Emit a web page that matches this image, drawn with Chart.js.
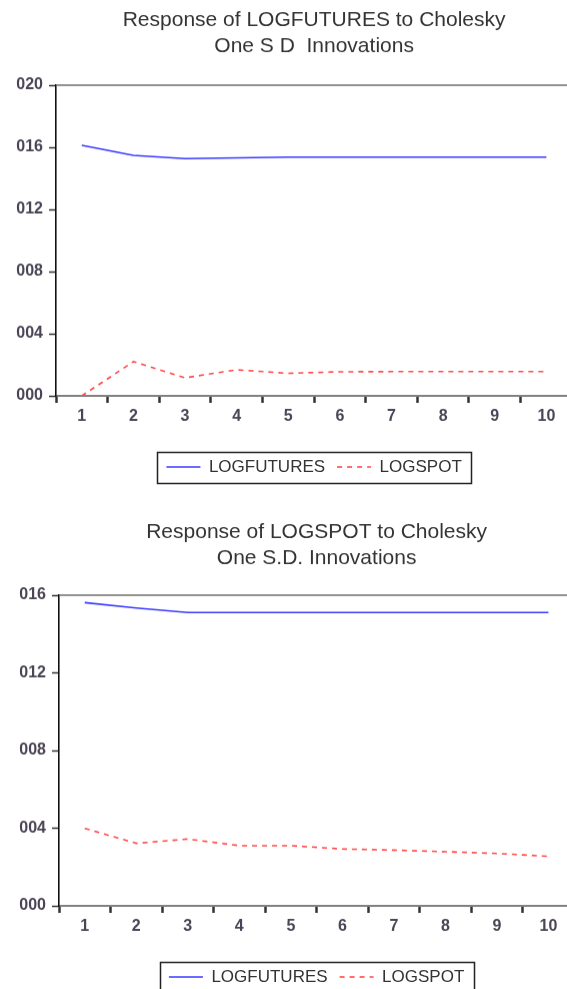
<!DOCTYPE html>
<html><head><meta charset="utf-8">
<script src="https://cdn.jsdelivr.net/npm/chart.js@4.4.1/dist/chart.umd.min.js"></script>
<style>
html,body{margin:0;padding:0;background:#fff;width:567px;height:989px;overflow:hidden;position:relative;}
.wrap{position:absolute;left:0;}
</style></head><body>
<div class="wrap" id="w1" style="top:0;width:573px;height:484.5px"><canvas id="c1"></canvas></div>
<div class="wrap" id="w2" style="top:511px;width:575px;height:483.5px"><canvas id="c2"></canvas></div>
<script>
const periods = ['1','2','3','4','5','6','7','8','9','10'];
const seriesNames = ['LOGFUTURES','LOGSPOT'];

const topTitle = ['Response of LOGFUTURES to Cholesky','One S D  Innovations'];
const topFutures = [0.01613, 0.01548, 0.01527, 0.01532, 0.01537, 0.01537, 0.01537, 0.01537, 0.01537, 0.01537];
const topSpot    = [0.00000, 0.00220, 0.00116, 0.00168, 0.00145, 0.00155, 0.00156, 0.00156, 0.00156, 0.00156];
const topYTicks  = ['000','004','008','012','016','020'];

const botTitle = ['Response of LOGSPOT to Cholesky','One S.D. Innovations'];
const botFutures = [0.01562, 0.01534, 0.01511, 0.01511, 0.01511, 0.01511, 0.01511, 0.01511, 0.01511, 0.01511];
const botSpot    = [0.00399, 0.00322, 0.00344, 0.00310, 0.00310, 0.00293, 0.00287, 0.00279, 0.00270, 0.00255];
const botYTicks  = ['000','004','008','012','016'];

const FONT = "'Liberation Sans', Arial, Helvetica, sans-serif";
const TICKCOL = '#4a4455';

const framePlugin = {
  id: 'frame',
  afterDraw(chart) {
    const {ctx, chartArea: a} = chart;
    ctx.save();
    ctx.strokeStyle = '#6f6f6f'; ctx.lineWidth = 1.5;
    ctx.beginPath(); ctx.moveTo(a.left, a.top); ctx.lineTo(a.right, a.top); ctx.lineTo(a.right, a.bottom); ctx.stroke();
    const hb = chart.legend && chart.legend.legendHitBoxes;
    if (hb && hb.length) {
      const l = hb[0].left - 9, last = hb[hb.length-1];
      const r = last.left + last.width + 10;
      const yc = hb[0].top + hb[0].height/2;
      ctx.strokeStyle = '#222'; ctx.lineWidth = 1.5;
      ctx.strokeRect(Math.round(l)+0.5, Math.round(yc - 15.5)+0.5, Math.round(r - l), 31);
    }
    ctx.restore();
  }
};

function legendLabels(chart) {
  const items = Chart.defaults.plugins.legend.labels.generateLabels(chart);
  items.forEach(it => {
    const ds = chart.data.datasets[it.datasetIndex];
    it.lineDash = ds.borderDash || [];
    it.lineWidth = ds.borderWidth;
    it.strokeStyle = ds.borderColor;
    it.fillStyle = ds.borderColor;
  });
  return items;
}

function makeChart(id, title, fut, spot, yTicks, yMax, yWidth, titlePad) {
  return new Chart(document.getElementById(id), {
    type: 'line',
    data: {
      labels: periods,
      datasets: [
        {label: seriesNames[0], data: fut, borderColor: '#3a3aff', backgroundColor: '#3a3aff', borderWidth: 1.6, pointRadius: 0, tension: 0, fill: false},
        {label: seriesNames[1], data: spot, borderColor: '#ff4a4a', backgroundColor: '#ff4a4a', borderWidth: 1.6, borderDash: [5,5], pointRadius: 0, tension: 0, fill: false}
      ]
    },
    options: {
      responsive: true, maintainAspectRatio: false, animation: false,
      layout: {padding: 0},
      plugins: {
        title: {display: true, text: title, fullSize: false, color: '#333',
          font: {family: FONT, size: 21, weight: 'normal', lineHeight: 1.2}, padding: titlePad},
        legend: {display: true, position: 'bottom', fullSize: false,
          labels: {usePointStyle: true, pointStyle: 'line', pointStyleWidth: 34, padding: 12,
            generateLabels: legendLabels,
            color: '#333', font: {family: FONT, size: 17, weight: 'normal'}}},
        tooltip: {enabled: false}
      },
      scales: {
        x: {type: 'category', offset: true,
          grid: {offset: true, drawOnChartArea: false, drawTicks: true, tickLength: 7, tickWidth: 2.5, tickColor: '#333'},
          border: {display: true, color: '#808080', width: 2},
          ticks: {color: TICKCOL, padding: 4, maxRotation: 0, autoSkip: false, font: {family: FONT, size: 16, weight: 'bold'}},
          afterFit: s => { s.height = 50.5; }
        },
        y: {min: 0, max: yMax,
          grid: {drawOnChartArea: false, drawTicks: true, tickLength: 7, tickWidth: 1.5, tickColor: '#333'},
          border: {display: true, color: '#111', width: 1.6},
          ticks: {stepSize: 0.004, color: TICKCOL, padding: 6, font: {family: FONT, size: 16, weight: 'bold'},
            callback: (v, i) => yTicks[i]},
          afterFit: s => { s.width = yWidth; }
        }
      }
    },
    plugins: [framePlugin]
  });
}

makeChart('c1', topTitle, topFutures, topSpot, topYTicks, 0.020, 56, {top: 8, bottom: 26.6});
makeChart('c2', botTitle, botFutures, botSpot, botYTicks, 0.016, 59, {top: 9, bottom: 24.6});
</script>
</body></html>
